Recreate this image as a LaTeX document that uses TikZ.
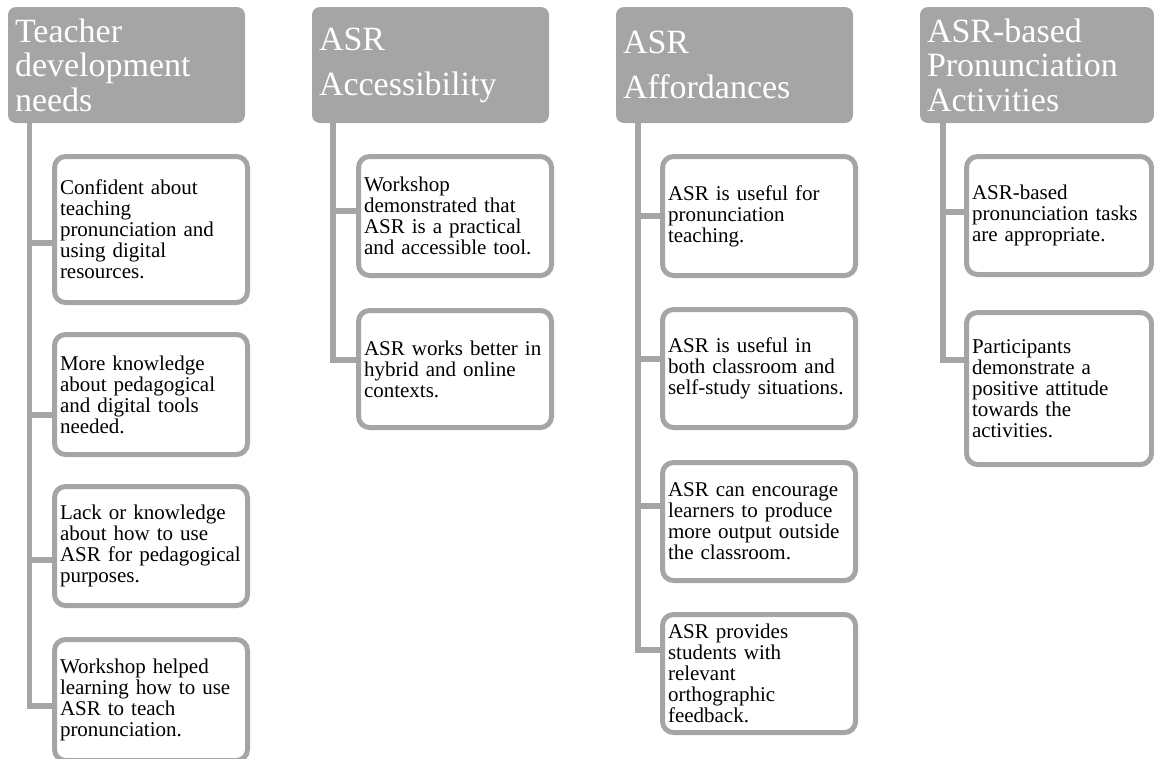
\documentclass[tikz,border=0pt]{standalone}
\usepackage{fontspec}
\setmainfont{Liberation Serif}
\usetikzlibrary{calc}
\definecolor{sgray}{HTML}{A5A5A5}
\newcommand\nohyph{\hyphenpenalty=10000\relax\exhyphenpenalty=10000\relax}
\tikzset{
  hdr/.style={fill=sgray, rounded corners=8pt, text=white, align=left,
    inner xsep=7pt, inner ysep=0pt, outer sep=0pt, anchor=north west,
    minimum height=116pt, text width=223pt},
  hdrthree/.style={hdr, font=\fontsize{34}{34.5}\selectfont\nohyph},
  hdrtwo/.style={hdr, font=\fontsize{34}{45}\selectfont\nohyph},
  kid/.style={draw=sgray, line width=5pt, fill=white, rounded corners=11pt,
    align=left, inner xsep=5.5pt, inner ysep=0pt, outer sep=0pt,
    anchor=north west, text width=182pt, text=black,
    font=\fontsize{21}{21}\selectfont\nohyph},
  kidnarrow/.style={kid, text width=174pt},
  conn/.style={draw=sgray, line width=5.5pt, line join=miter}
}
\begin{document}
\begin{tikzpicture}[x=1pt,y=-1pt]
\useasboundingbox (0,0) rectangle (1154,758);
\clip (0,0) rectangle (1154,758);

% headers
\node[hdrthree] (h1) at (8,7) {Teacher\\development\\needs};
\node[hdrtwo] (h2) at (312,7) {ASR\\Accessibility};
\node[hdrtwo] (h3) at (616,7) {ASR\\Affordances};
\node[hdrthree, text width=220pt] (h4) at (920,7) {ASR-based\\Pronunciation\\Activities};

% column 1
\node[kid, minimum height=146pt] (b11) at (54.5,156.5) {Confident about\\teaching\\pronunciation and\\using digital\\resources.};
\node[kid, minimum height=120pt] (b12) at (54.5,334.5) {More knowledge\\about pedagogical\\and digital tools\\needed.};
\node[kid, minimum height=119pt] (b13) at (54.5,486.5) {Lack or knowledge\\about how to use\\ASR for pedagogical\\purposes.};
\node[kid, minimum height=121pt] (b14) at (54.5,639.5) {Workshop helped\\learning how to use\\ASR to teach\\pronunciation.};

% column 2
\node[kid, minimum height=119pt] (b21) at (358.5,156.5) {Workshop\\demonstrated that\\ASR is a practical\\and accessible tool.};
\node[kid, minimum height=117pt] (b22) at (358.5,310.5) {ASR works better in\\hybrid and online\\contexts.};

% column 3
\node[kid, minimum height=119pt] (b31) at (662.5,156.5) {ASR is useful for\\pronunciation\\teaching.};
\node[kid, minimum height=118pt] (b32) at (662.5,309.5) {ASR is useful in\\both classroom and\\self-study situations.};
\node[kid, minimum height=118pt] (b33) at (662.5,462.5) {ASR can encourage\\learners to produce\\more output outside\\the classroom.};
\node[kid, minimum height=118pt] (b34) at (662.5,614.5) {ASR provides\\students with\\relevant\\orthographic\\feedback.};

% column 4
\node[kidnarrow, minimum height=118pt] (b41) at (966.5,156.5) {ASR-based\\pronunciation tasks\\are appropriate.};
\node[kidnarrow, minimum height=152pt] (b42) at (966.5,312.5) {Participants\\demonstrate a\\positive attitude\\towards the\\activities.};

% spine x positions
\coordinate (v1) at (29.5,0);
\coordinate (v2) at (333,0);
\coordinate (v3) at (638,0);
\coordinate (v4) at (943,0);

% branch points on box sides
\coordinate (k11) at ($(b11.north west)!0.592!(b11.south west)$);
\coordinate (k12) at ($(b12.north west)!0.671!(b12.south west)$);
\coordinate (k13) at ($(b13.north west)!0.618!(b13.south west)$);
\coordinate (k14) at ($(b14.north west)!0.55!(b14.south west)$);
\coordinate (k21) at ($(b21.north west)!0.458!(b21.south west)$);
\coordinate (k22) at ($(b22.north west)!0.423!(b22.south west)$);
\coordinate (k31) at ($(b31.north west)!0.5!(b31.south west)$);
\coordinate (k32) at ($(b32.north west)!0.419!(b32.south west)$);
\coordinate (k33) at ($(b33.north west)!0.369!(b33.south west)$);
\coordinate (k34) at ($(b34.north west)!0.301!(b34.south west)$);
\coordinate (k41) at ($(b41.north west)!0.47!(b41.south west)$);
\coordinate (k42) at ($(b42.north west)!0.3125!(b42.south west)$);

% connectors
\draw[conn] (h1.south -| v1) -- (v1 |- k14) -- (k14);
\draw[conn] (v1 |- k11) -- (k11);
\draw[conn] (v1 |- k12) -- (k12);
\draw[conn] (v1 |- k13) -- (k13);

\draw[conn] (h2.south -| v2) -- (v2 |- k22) -- (k22);
\draw[conn] (v2 |- k21) -- (k21);

\draw[conn] (h3.south -| v3) -- (v3 |- k34) -- (k34);
\draw[conn] (v3 |- k31) -- (k31);
\draw[conn] (v3 |- k32) -- (k32);
\draw[conn] (v3 |- k33) -- (k33);

\draw[conn] (h4.south -| v4) -- (v4 |- k42) -- (k42);
\draw[conn] (v4 |- k41) -- (k41);
\end{tikzpicture}
\end{document}
